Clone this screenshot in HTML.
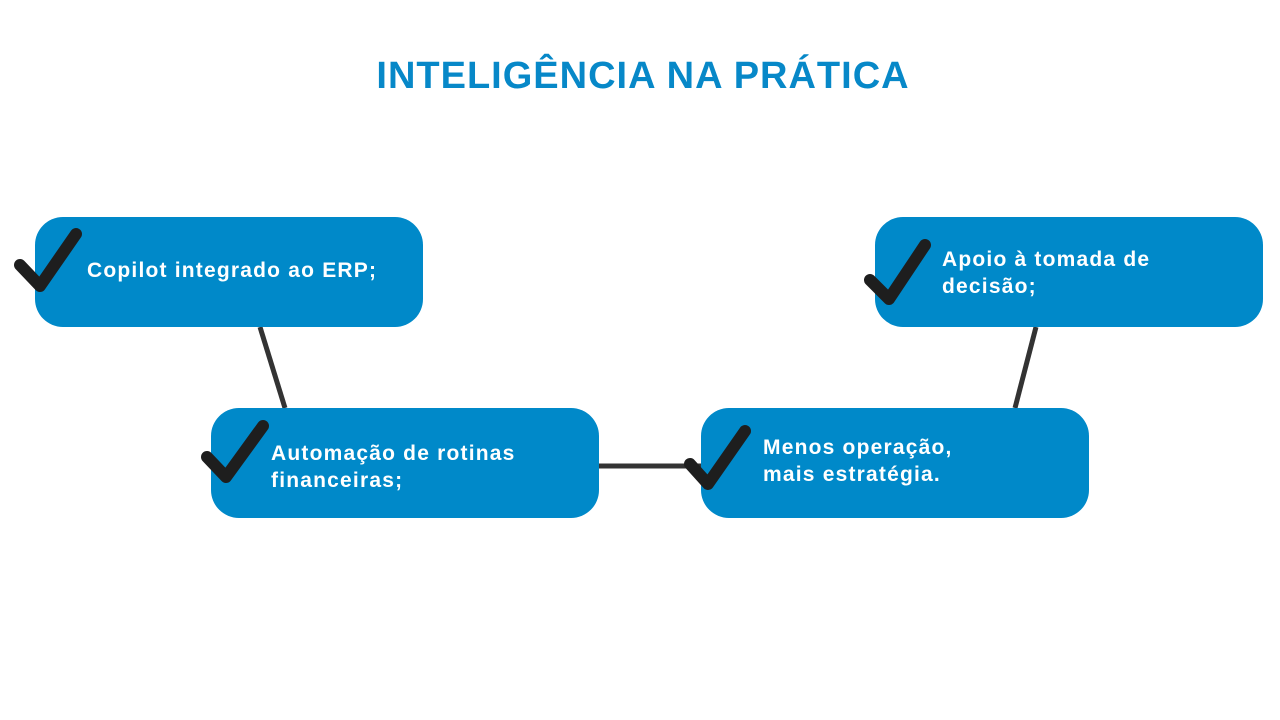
<!DOCTYPE html>
<html><head><meta charset="utf-8"><style>
body{margin:0;width:1280px;height:720px;background:#fff;position:relative;overflow:hidden;font-family:"Liberation Sans",sans-serif}
.t{position:absolute;left:0;width:1286px;top:55px;text-align:center;color:#0788c8;font-weight:bold;font-size:38px;letter-spacing:1px}
.b{position:absolute;width:388px;height:110px;background:#0089c9;border-radius:28px}
.x{position:absolute;color:#fff;font-weight:bold;font-size:21px;line-height:27px;letter-spacing:1.2px;white-space:nowrap}
svg{position:absolute;left:0;top:0}
</style></head><body>
<div class="t">INTELIGÊNCIA NA PRÁTICA</div>
<svg width="1280" height="720"><g stroke="#333" stroke-width="5"><line x1="260" y1="327" x2="285" y2="408"/><line x1="599" y1="466" x2="701" y2="466"/><line x1="1036" y1="327" x2="1015" y2="408"/></g></svg>
<div class="b" style="left:35px;top:217px"></div>
<div class="b" style="left:211px;top:408px"></div>
<div class="b" style="left:701px;top:408px"></div>
<div class="b" style="left:875px;top:217px"></div>
<svg width="1280" height="720"><g fill="none" stroke="#1e1e1e" stroke-width="12" stroke-linecap="round" stroke-linejoin="round">
<path d="M20 265 L40 286 L76 234"/>
<path d="M207 457 L226 477 L263 426"/>
<path d="M690 464 L708 484 L745 431"/>
<path d="M870 280 L889 299 L925 245"/>
</g></svg>
<div class="x" style="left:87px;top:257px">Copilot integrado ao ERP;</div>
<div class="x" style="left:271px;top:440px">Automação de rotinas<br>financeiras;</div>
<div class="x" style="left:763px;top:434px">Menos operação,<br>mais estratégia.</div>
<div class="x" style="left:942px;top:246px">Apoio à tomada de<br>decisão;</div>
</body></html>
